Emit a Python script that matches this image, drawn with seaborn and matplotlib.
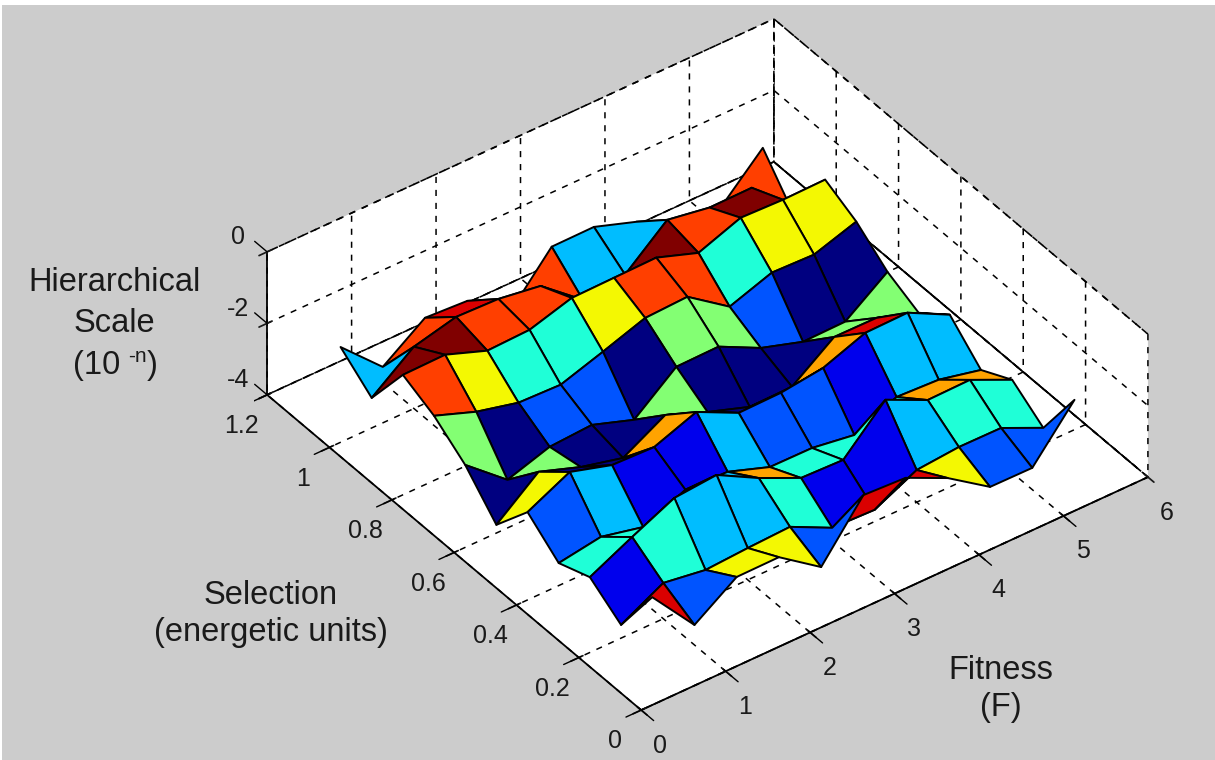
import numpy as np
import matplotlib
matplotlib.use("Agg")
import matplotlib.pyplot as plt
from matplotlib.patches import Rectangle
import seaborn as sns

fitness = [0.5, 1.0, 1.5, 2.0, 2.5, 3.0, 3.5, 4.0, 4.5, 5.0, 5.5]
selection = [1.1, 1.0, 0.9, 0.8, 0.7, 0.6, 0.5, 0.4, 0.3, 0.2, 0.1]

# one row per selection value, one column per fitness value
scale = [
    [-2.47, -3.57, -2.74, -2.81, -3.69, -2.38, -2.37, -2.77, -3.31, -3.46, -2.33],
    [-3.16, -2.27, -1.98, -2.02, -2.20, -3.13, -2.97, -1.98, -2.18, -2.17, -3.47],
    [-1.78, -1.76, -2.19, -2.15, -1.80, -1.78, -1.76, -2.17, -1.73, -1.77, -1.75],
    [-2.19, -2.62, -2.91, -2.95, -2.57, -2.17, -2.12, -2.94, -2.53, -2.57, -2.19],
    [-2.83, -3.79, -3.41, -3.34, -3.74, -2.80, -2.78, -3.36, -3.73, -3.71, -2.86],
    [-3.77, -2.83, -3.24, -3.53, -2.87, -3.33, -3.73, -3.71, -2.86, -2.87, -3.27],
    [-2.68, -2.10, -2.45, -2.49, -2.05, -2.62, -2.60, -2.45, -2.01, -1.99, -2.59],
    [-3.37, -3.18, -3.45, -2.95, -2.99, -3.40, -3.41, -3.59, -3.07, -3.13, -3.40],
    [-3.03, -2.45, -1.90, -1.80, -2.43, -2.97, -3.01, -1.87, -2.42, -2.40, -2.94],
    [-3.63, -3.00, -3.18, -3.11, -3.06, -3.63, -3.67, -3.10, -3.00, -3.01, -3.55],
    [-2.12, -3.44, -2.64, -2.63, -3.45, -1.98, -2.04, -2.59, -3.38, -3.39, -2.03],
]

# colour of each patch, as a position on the jet map
levels = {"D": 0.0, "B": 0.095, "M": 0.21, "L": 0.31, "C": 0.39, "G": 0.51,
          "Y": 0.645, "O": 0.735, "R": 0.84, "E": 0.92, "K": 1.0}
patches = [
    "LRERRLLRRR",
    "KKRRRKKRKY",
    "RYCCYRRCYY",
    "GDMMDGGMDD",
    "DGDDGDDDGG",
    "YDDODDDOEL",
    "MLBBLMMBLL",
    "CCCLOCCCOO",
    "BCLLCBBLCC",
    "EMYYMEEYMM",
]

x_ticks = [0, 1, 2, 3, 4, 5, 6]
y_ticks = [0, 0.2, 0.4, 0.6, 0.8, 1.0, 1.2]
y_labels = ["0", "0.2", "0.4", "0.6", "0.8", "1", "1.2"]
z_ticks = [-4, -2, 0]
z_labels = ["-4", "-2", "0"]

sns.set_theme(style="white", font="Liberation Sans", rc={
    "grid.color": "black",
    "grid.linewidth": 1.1,
    "grid.linestyle": (0, (4, 4.5)),
    "axes.edgecolor": "black",
    "axes.linewidth": 1.3,
    "text.color": "#1a1a1a",
})
jet = matplotlib.colormaps["jet"]

fig = plt.figure(figsize=(12.15, 7.6), dpi=100, facecolor="white")
fig.add_artist(Rectangle((2 / 1215, 0), 1, 755 / 760, transform=fig.transFigure,
                         facecolor="#cccccc", edgecolor="none", zorder=-10))
ax = fig.add_axes([254.3 / 1215, -57.7 / 760, 882.6 / 1215, 882.6 / 760],
                  projection="3d", computed_zorder=False)
ax.patch.set_visible(False)
ax.set_proj_type("ortho")
ax.view_init(elev=38.5, azim=-126.45)
ax.set_box_aspect((630, 629.6, 182.7))
ax.set_xlim(0, 6, view_margin=0)
ax.set_ylim(0, 1.2, view_margin=0)
ax.set_zlim(-4, 0, view_margin=0)

for axis in (ax.xaxis, ax.yaxis, ax.zaxis):
    axis.set_pane_color("white")
    axis.pane.set_edgecolor("black")
    axis.pane.set_linestyle((0, (4, 4.5)))
    axis.pane.set_linewidth(1.2)

ax.set_xticks(x_ticks)
ax.set_yticks(y_ticks, y_labels)
ax.set_zticks(z_ticks, z_labels)
ax.tick_params(axis="both", labelsize=18, colors="#1a1a1a", pad=9)
ax.tick_params(axis="z", labelsize=18, colors="#1a1a1a", pad=3)
for t in ax.zaxis.get_ticklabels():
    t.set_va("bottom")

# solid floor edge at the far end of the fitness axis
ax.plot([6, 6], [0, 1.2], [-4, -4], color="black", lw=1.2, zorder=1)

# tick marks cross the box edges
tick = dict(color="black", lw=1.0, zorder=1)
for x in x_ticks:
    ax.plot([x, x], [-0.04, 0.006], [-4, -4], **tick)
for y in y_ticks:
    ax.plot([-0.18, 0.03], [y, y], [-4, -4], **tick)
for z in z_ticks:
    ax.plot([0, 0], [1.2, 1.24], [z, z], **tick)

X, Y = np.meshgrid(fitness, selection)
colours = jet(np.array([[levels[c] for c in row] for row in patches]))
ax.plot_surface(X, Y, np.array(scale), facecolors=colours, rstride=1, cstride=1,
                shade=False, edgecolor="black", linewidth=1.4, zorder=2)

lab = dict(fontsize=23.5, ha="center", va="center")
fig.text(114 / 1215, 1 - 303 / 760, "Hierarchical\nScale", linespacing=1.42, **lab)
fig.text(73 / 1215, 1 - 374 / 760, "(10", fontsize=23.5, ha="left", va="baseline")
fig.text(128 / 1215, 1 - 362 / 760, "-n", fontsize=15, ha="left", va="baseline")
fig.text(147 / 1215, 1 - 374 / 760, ")", fontsize=23.5, ha="left", va="baseline")
fig.text(271 / 1215, 1 - 614 / 760, "Selection\n(energetic units)", linespacing=1.28, **lab)
fig.text(1001 / 1215, 1 - 689 / 760, "Fitness\n(F)", linespacing=1.28, **lab)

fig.savefig("out.png", dpi=100, facecolor=fig.get_facecolor())
